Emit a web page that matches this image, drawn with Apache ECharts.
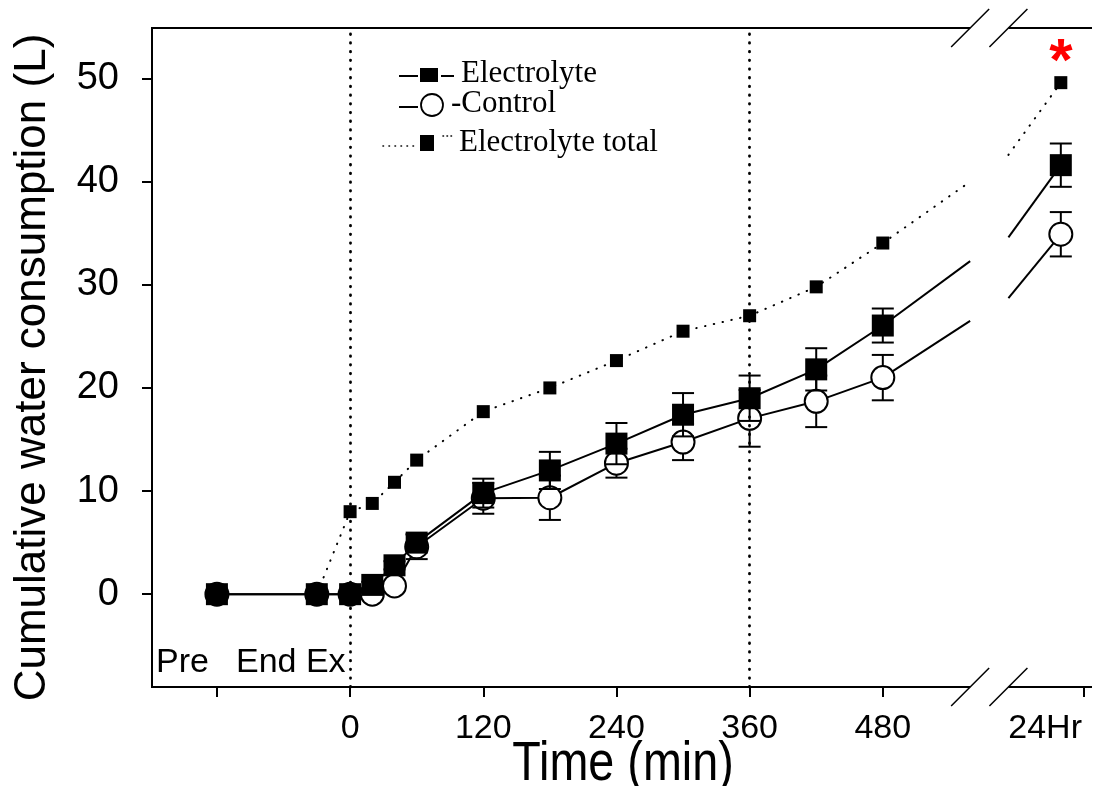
<!DOCTYPE html>
<html><head><meta charset="utf-8">
<script src="https://cdn.jsdelivr.net/npm/echarts@6/dist/echarts.min.js"></script>
<style>html,body{margin:0;padding:0;background:#fff}#c{width:1094px;height:786px}</style>
</head><body><div id="c"></div>
<script>
// ---- data (minutes after end of exercise; Pre and End Ex placed left of 0) ----
const H24 = 640.4;          // x position of the 24 h samples
const H24_TICK = 661.4;     // x position of the 24Hr tick
const BREAK_L = 558.7, BREAK_R = 593.2;   // axis break edges
const times     = [-120, -30, 0, 20, 40, 60, 120, 180, 240, 300, 360, 420, 480];
const elecMean  = [0, 0, 0, 0.9, 2.8, 5.0, 9.8, 12.0, 14.6, 17.4, 19.0, 21.8, 26.05];
const elecErr   = [0, 0, 0, 0.3, 0.4, 0.8, 1.4, 1.8, 2.0, 2.1, 2.2, 2.05, 1.65];
const ctrlMean  = [0, 0, 0, 0.0, 0.8, 4.6, 9.3, 9.35, 12.7, 14.75, 17.05, 18.7, 21.0];
const ctrlErr   = [0, 0, 0, 0.2, 0.4, 1.2, 1.5, 2.15, 1.4, 1.75, 2.75, 2.5, 2.2];
const totalTimes = [-30, 0, 20, 40, 60, 120, 180, 240, 300, 360, 420, 480];
const totalMean  = [0, 8.0, 8.8, 10.85, 13.0, 17.7, 20.0, 22.65, 25.5, 27.0, 29.8, 34.05];
const elec24 = 41.6, elec24Err = 2.1;
const ctrl24 = 34.9, ctrl24Err = 2.15;
const total24 = 49.6;
const elecBreak  = [32.3, 34.6];   // line values at the left / right edge of the break
const ctrlBreak  = [26.5, 28.7];
const totalBreak = [40.0, 42.6];
const sigMark = 52.6;              // position of the significance asterisk
const phaseLines = [0, 360];
const xTickValues = [-120, 0, 120, 240, 360, 480, H24_TICK];
const xLabelValues = [0, 120, 240, 360, 480, H24_TICK];
const xLabelText = ['0', '120', '240', '360', '480', '24Hr'];
const yTickValues = [0, 10, 20, 30, 40, 50];

// ---- helpers ----
const pairs = (xs, ys) => xs.map((x, i) => [x, ys[i]]);
function errData(xs, m, e) {
  const out = [];
  xs.forEach((x, i) => { if (e[i] > 0) out.push([x, m[i] - e[i], m[i] + e[i]]); });
  return out;
}
function errRender(params, api) {
  const x = api.value(0), lo = api.value(1), hi = api.value(2);
  const p1 = api.coord([x, hi]), p2 = api.coord([x, lo]);
  const hw = 11, st = {stroke: '#000', lineWidth: 2};
  return {type: 'group', children: [
    {type: 'line', shape: {x1: p1[0], y1: p1[1], x2: p2[0], y2: p2[1]}, style: st},
    {type: 'line', shape: {x1: p1[0] - hw, y1: p1[1], x2: p1[0] + hw, y2: p1[1]}, style: st},
    {type: 'line', shape: {x1: p2[0] - hw, y1: p2[1], x2: p2[0] + hw, y2: p2[1]}, style: st}
  ]};
}
const F = 'Liberation Sans, Arial, Helvetica, sans-serif';
const solid = {color: '#000', width: 2};
const circleStyle = {color: '#fff', borderColor: '#000', borderWidth: 2};
const squareStyle = {color: '#000'};
const dotted = {color: '#000', width: 2, type: [0.5, 8.5], cap: 'round'};

const ctrlErrAll = errData(times, ctrlMean, ctrlErr).concat([[H24, ctrl24 - ctrl24Err, ctrl24 + ctrl24Err]]);
const elecErrAll = errData(times, elecMean, elecErr).concat([[H24, elec24 - elec24Err, elec24 + elec24Err]]);
const last = times.length - 1;

const chart = echarts.init(document.getElementById('c'), null, {renderer: 'canvas'});
const option = {
  animation: false,
  backgroundColor: '#fff',
  grid: {left: 152, right: 2, top: 28, bottom: 99, containLabel: false},
  xAxis: {
    type: 'value', min: -178.5, max: 668.5,
    axisLine: {show: false, onZero: false},
    splitLine: {show: false},
    axisTick: {show: true, length: 10, customValues: xTickValues, lineStyle: {color: '#000', width: 2}},
    axisLabel: {
      show: true, customValues: xLabelValues, margin: 25,
      color: '#000', fontSize: 34, fontFamily: F,
      formatter: v => {
        const i = xLabelValues.findIndex(t => Math.abs(t - v) < 0.01);
        if (i < 0) return '';
        return xLabelValues[i] === H24_TICK ? '{h|' + xLabelText[i] + '}' : xLabelText[i];
      },
      rich: {h: {fontSize: 34, fontFamily: F, color: '#000', padding: [0, 78, 0, 0]}}
    }
  },
  yAxis: {
    type: 'value', min: -9, max: 54.9,
    axisLine: {show: false, onZero: false},
    splitLine: {show: false},
    axisTick: {show: true, length: 10, customValues: yTickValues, lineStyle: {color: '#000', width: 2}},
    axisLabel: {show: true, customValues: yTickValues, margin: 33, color: '#000', fontSize: 38, fontFamily: F},
    name: 'Cumulative water consumption (L)', nameLocation: 'middle', nameGap: 97,
    nameTextStyle: {color: '#000', fontSize: 44, fontFamily: F, padding: [0, 20, 0, 0]}
  },
  series: [
    {type: 'custom', name: 'ctrlErr', renderItem: errRender, data: ctrlErrAll, z: 2},
    {type: 'line', name: 'Control', data: pairs(times, ctrlMean), z: 3,
     symbol: 'circle', symbolSize: 23, itemStyle: circleStyle, lineStyle: solid},
    {type: 'line', name: 'ctrlA', data: [[times[last], ctrlMean[last]], [BREAK_L, ctrlBreak[0]]], z: 3,
     symbol: 'none', lineStyle: solid},
    {type: 'line', name: 'ctrlB', z: 3, lineStyle: solid, itemStyle: circleStyle, symbolSize: 23,
     data: [{value: [BREAK_R, ctrlBreak[1]], symbol: 'none'}, {value: [H24, ctrl24], symbol: 'circle'}]},
    {type: 'custom', name: 'elecErr', renderItem: errRender, data: elecErrAll, z: 4},
    {type: 'line', name: 'Electrolyte', data: pairs(times, elecMean), z: 5,
     symbol: 'rect', symbolSize: 22, itemStyle: squareStyle, lineStyle: solid},
    {type: 'line', name: 'elecA', data: [[times[last], elecMean[last]], [BREAK_L, elecBreak[0]]], z: 5,
     symbol: 'none', lineStyle: solid},
    {type: 'line', name: 'elecB', z: 5, lineStyle: solid, itemStyle: squareStyle, symbolSize: 22,
     data: [{value: [BREAK_R, elecBreak[1]], symbol: 'none'}, {value: [H24, elec24], symbol: 'rect'}]},
    {type: 'line', name: 'Electrolyte total', data: pairs(totalTimes, totalMean), z: 6,
     symbol: 'rect', symbolSize: 13, itemStyle: squareStyle, lineStyle: dotted,
     markLine: {silent: true, symbol: 'none', label: {show: false},
       lineStyle: {color: '#000', width: 2.8, type: [0.5, 8.2], cap: 'round'},
       data: phaseLines.map(v => ({xAxis: v}))}},
    {type: 'line', name: 'totalA', data: [[totalTimes[totalTimes.length - 1], totalMean[totalMean.length - 1]], [BREAK_L, totalBreak[0]]], z: 6,
     symbol: 'none', lineStyle: dotted},
    {type: 'line', name: 'totalB', z: 6, lineStyle: dotted, itemStyle: squareStyle, symbolSize: 13,
     data: [{value: [BREAK_R, totalBreak[1]], symbol: 'none'}, {value: [H24, total24], symbol: 'rect'}]}
  ]
};
chart.setOption(option);

// ---- frame, axis breaks, legend, annotations ----
const px = (x, y) => chart.convertToPixel({gridIndex: 0}, [x, y]);
const [xL, yB] = px(-178.5, -9);
const [xR, yT] = px(668.5, 54.9);
const bl = px(BREAK_L, 0)[0], br = px(BREAK_R, 0)[0];
const ln = (x1, y1, x2, y2, w) => ({type: 'line', z: 100, silent: true,
  shape: {x1, y1, x2, y2}, style: {stroke: '#000', lineWidth: w || 2}});
const slash = (cx, cy) => ln(cx - 19, cy + 19, cx + 19, cy - 19, 1.5);
const star = px(H24, sigMark);
const serif = 'Liberation Serif, Times New Roman, serif';
const txt = (text, x, y, size, fam, extra) => Object.assign({type: 'text', z: 100, silent: true, x, y,
  style: {text, fill: '#000', fontSize: size, fontFamily: fam, align: 'left', verticalAlign: 'middle'}}, extra || {});

const graphics = [
  ln(xL, yT - 1, xL, yB + 1),
  ln(xL, yT, bl, yT), ln(br, yT, xR, yT),
  ln(xL, yB, bl, yB), ln(br, yB, xR, yB),
  slash(bl, yT), slash(br, yT), slash(bl, yB), slash(br, yB),
  // legend
  ln(399, 76, 418, 76, 2), {type: 'rect', z: 100, shape: {x: 420, y: 68, width: 18, height: 14}, style: {fill: '#000'}},
  ln(441, 76, 454, 76, 2), txt('Electrolyte', 461, 74, 31, serif),
  ln(399, 107, 418, 107, 2), {type: 'circle', z: 100, shape: {cx: 432, cy: 105, r: 11}, style: {fill: '#fff', stroke: '#000', lineWidth: 1.8}},
  txt('-Control', 451, 104, 31, serif),
  {type: 'line', z: 100, shape: {x1: 383, y1: 146, x2: 415, y2: 146}, style: {stroke: '#000', lineWidth: 1.6, lineDash: [0.5, 5.5], lineCap: 'round'}},
  {type: 'rect', z: 100, shape: {x: 420, y: 135, width: 14, height: 16}, style: {fill: '#000'}},
  {type: 'line', z: 100, shape: {x1: 443, y1: 136, x2: 455, y2: 136}, style: {stroke: '#000', lineWidth: 1.6, lineDash: [0.5, 3.5], lineCap: 'round'}},
  txt('Electrolyte total', 459, 143, 31, serif),
  // phase labels
  txt('Pre', 156, 663, 34, F),
  txt('End Ex', 236, 663, 34, F),
  // significance asterisk
  {type: 'text', z: 100, x: star[0], y: star[1] + 12,
   style: {text: '*', fill: '#ff0000', fontSize: 60, fontFamily: F, fontWeight: 'bold', align: 'center', verticalAlign: 'middle'}},
  // x axis title
  {type: 'group', x: (xL + xR) / 2 + 1, y: 765, scaleX: 0.85, children: [
    {type: 'text', z: 100, style: {text: 'Time (min)', fill: '#000', fontSize: 55, fontFamily: F, align: 'center', verticalAlign: 'middle'}}
  ]}
];
chart.setOption({graphic: {elements: graphics}});
</script>
</body></html>
